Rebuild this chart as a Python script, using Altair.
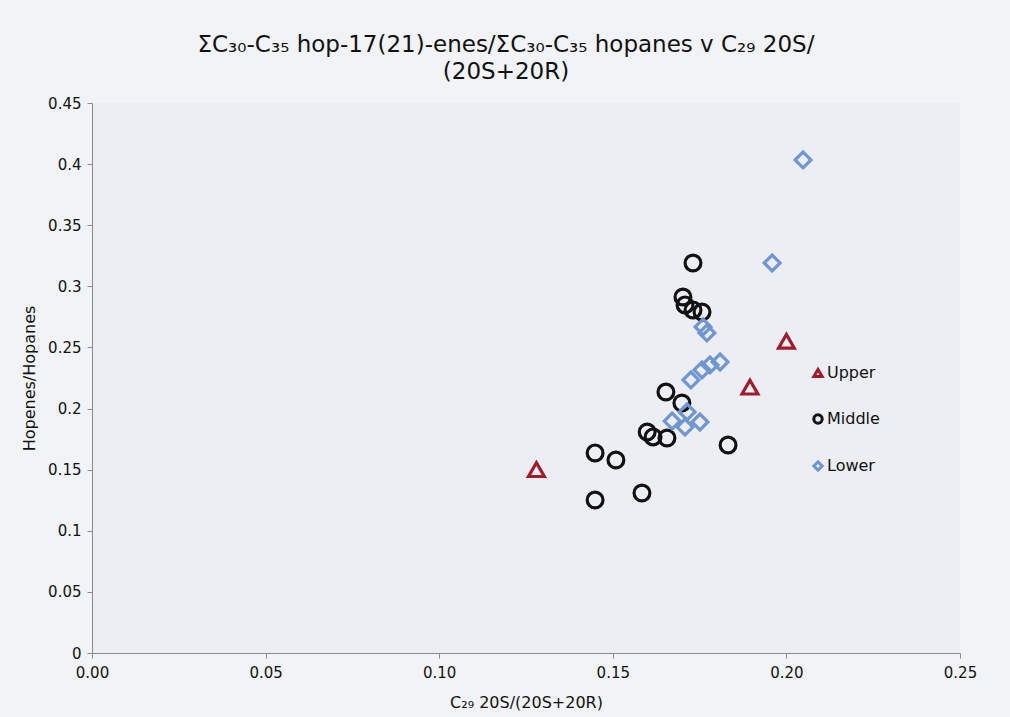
import altair as alt
import pandas as pd

groups = ["Upper", "Middle", "Lower"]

upper_x = [0.128, 0.1895, 0.200]
upper_y = [0.150, 0.2175, 0.255]

middle_x = [0.1731, 0.1702, 0.1708, 0.1731, 0.1757, 0.1653, 0.1699, 0.1599,
            0.1616, 0.1656, 0.1832, 0.1449, 0.1509, 0.1449, 0.1584]
middle_y = [0.3191, 0.2913, 0.2848, 0.2807, 0.2790, 0.2136, 0.2046, 0.1808,
            0.1768, 0.1759, 0.1702, 0.1637, 0.1579, 0.1252, 0.1309]

lower_x = [0.2048, 0.1959, 0.1760, 0.1771, 0.1725, 0.1757, 0.1780, 0.1809,
           0.1671, 0.1714, 0.1708, 0.1751]
lower_y = [0.4034, 0.3191, 0.2668, 0.2619, 0.2234, 0.2316, 0.2357, 0.2381,
           0.1898, 0.1972, 0.1849, 0.1890]

x_ticks = [0.0, 0.05, 0.10, 0.15, 0.20, 0.25]
y_ticks = [0.0, 0.05, 0.1, 0.15, 0.2, 0.25, 0.3, 0.35, 0.4, 0.45]

rows = []
for g, xs, ys in [("Upper", upper_x, upper_y), ("Middle", middle_x, middle_y), ("Lower", lower_x, lower_y)]:
    for a, b in zip(xs, ys):
        rows.append({"group": g, "x": a, "y": b})
df = pd.DataFrame(rows)

FONT = "DejaVu Sans"

legend = alt.Legend(title=None, orient="none", legendX=718, legendY=262,
                    symbolSize=70, symbolStrokeWidth=3, rowPadding=25,
                    labelFontSize=16, labelFont=FONT, labelColor="#111111",
                    labelOffset=1)

chart = alt.Chart(df).mark_point(filled=False, strokeWidth=3.2, size=250, opacity=1).encode(
    x=alt.X("x:Q", scale=alt.Scale(domain=[0, 0.25], nice=False),
            axis=alt.Axis(values=x_ticks, format=".2f", title="C₂₉ 20S/(20S+20R)",
                          grid=False, tickSize=5, labelPadding=7, titlePadding=14,
                          labelFlush=False)),
    y=alt.Y("y:Q", scale=alt.Scale(domain=[0, 0.45], nice=False),
            axis=alt.Axis(values=y_ticks, format="~g", title="Hopenes/Hopanes",
                          grid=False, tickSize=5, labelPadding=6, titlePadding=10,
                          labelFlush=False)),
    shape=alt.Shape("group:N", scale=alt.Scale(domain=groups, range=["triangle-up", "circle", "diamond"]),
                    legend=legend),
    color=alt.Color("group:N", scale=alt.Scale(domain=groups, range=["#9e1c2c", "#111111", "#6f96cf"]),
                    legend=legend),
).properties(
    width=868,
    height=550,
    padding={"left": 92, "top": 103, "right": 50, "bottom": 64},
    autosize=alt.AutoSizeParams(type="none"),
    background="#f2f3f7",
    title=alt.TitleParams(
        text=["ΣC₃₀-C₃₅ hop-17(21)-enes/ΣC₃₀-C₃₅ hopanes v C₂₉ 20S/", "(20S+20R)"],
        font=FONT, fontSize=23, fontWeight="normal", color="#111111",
        anchor="middle", frame="group", dx=-20, offset=12, lineHeight=27,
    ),
).configure_view(
    fill="#eceef4", stroke=None,
).configure_axis(
    domainColor="#8a8a8a", tickColor="#8a8a8a", labelColor="#111111", titleColor="#111111",
    labelFont=FONT, titleFont=FONT, labelFontSize=15, titleFontSize=16, titleFontWeight="normal",
)

chart.save("out.html", embed_options={"renderer": "svg", "actions": False})
